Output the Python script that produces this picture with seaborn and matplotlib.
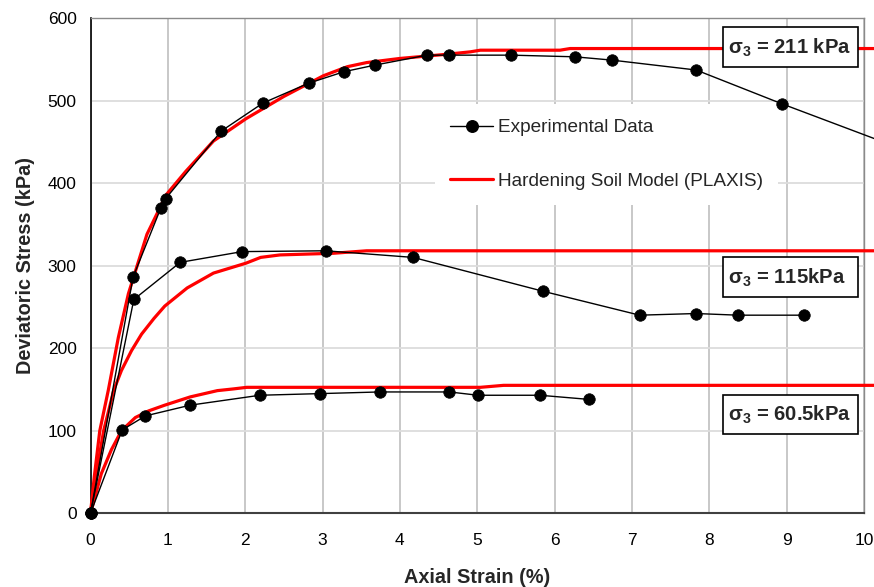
import numpy as np
import pandas as pd
import matplotlib
matplotlib.use("Agg")
import matplotlib.pyplot as plt
from matplotlib.lines import Line2D
from matplotlib.patches import Rectangle
import seaborn as sns

# triaxial tests - experimental points (axial strain %, deviatoric stress kPa)
exp_211_strain = [0, 0.55, 0.91, 0.97, 1.69, 2.23, 2.82, 3.28, 3.68, 4.35, 4.63, 5.44, 6.26, 6.74, 7.83, 8.94, 10.5]
exp_211_stress = [0, 286, 370, 381, 463, 497, 521, 535, 543, 555, 555, 555, 553, 549, 537, 496, 441]

exp_115_strain = [0, 0.56, 1.16, 1.96, 3.04, 4.17, 5.85, 7.10, 7.83, 8.37, 9.22]
exp_115_stress = [0, 259, 304, 317, 318, 310, 269, 240, 242, 240, 240]

exp_60_strain = [0, 0.41, 0.71, 1.29, 2.19, 2.97, 3.74, 4.64, 5.01, 5.81, 6.44]
exp_60_stress = [0, 101, 118, 131, 143, 145, 147, 147, 143, 143, 138]

# Hardening Soil model (PLAXIS)
hs_211_strain = [0, 0.05, 0.12, 0.23, 0.36, 0.49, 0.62, 0.73, 0.98, 1.23, 1.59, 2.01, 2.5,
                 3.01, 3.32, 3.57, 4.0, 4.6, 4.91, 5.04, 6.07, 6.2, 10.5]
hs_211_stress = [0, 45, 100, 149, 213, 266, 305, 338, 386, 414, 451, 478, 505,
                 530, 541, 546, 551, 556, 559, 561, 561, 563, 563]

hs_115_strain = [0, 0.07, 0.17, 0.30, 0.40, 0.53, 0.66, 0.82, 0.96, 1.25, 1.59, 2.01,
                 2.2, 2.45, 3.14, 3.57, 10.5]
hs_115_stress = [0, 45, 100, 149, 173, 197, 217, 236, 251, 273, 291, 303,
                 310, 313, 315, 318, 318]

hs_60_strain = [0, 0.14, 0.27, 0.40, 0.58, 0.75, 0.96, 1.29, 1.64, 1.85, 2.02, 5.04, 5.34, 10.5]
hs_60_stress = [0, 48, 77, 100, 116, 124, 131, 141, 148.6, 150.7, 152.6, 152.6, 155, 155]

box_labels = [r"σ$_\mathbf{3}$ = 211 kPa", r"σ$_\mathbf{3}$ = 115kPa", r"σ$_\mathbf{3}$ = 60.5kPa"]
box_bottoms = [540.5, 261.8, 95.5]

ROUGE = "#FF0000"

sns.set_style("white")
plt.rcParams["font.family"] = ["Liberation Sans", "DejaVu Sans"]
plt.rcParams["mathtext.fontset"] = "custom"
plt.rcParams["mathtext.rm"] = "Liberation Sans"
plt.rcParams["mathtext.bf"] = "Liberation Sans:bold"

fig = plt.figure(figsize=(8.74, 5.87), dpi=100)
ax = fig.add_axes([90.5 / 874, 1 - 513.3 / 587, 773.5 / 874, 495.3 / 587])

# modele HS en rouge, dessous
for sx, sy in [(hs_211_strain, hs_211_stress), (hs_115_strain, hs_115_stress), (hs_60_strain, hs_60_stress)]:
    d = pd.DataFrame({"strain": sx, "stress": sy})
    sns.lineplot(data=d, x="strain", y="stress", sort=False, estimator=None,
                 color=ROUGE, linewidth=2.3, ax=ax, clip_on=False, zorder=3)

# donnees experimentales
for sx, sy in [(exp_211_strain, exp_211_stress), (exp_115_strain, exp_115_stress), (exp_60_strain, exp_60_stress)]:
    d = pd.DataFrame({"strain": sx, "stress": sy})
    sns.lineplot(data=d, x="strain", y="stress", sort=False, estimator=None,
                 color="black", linewidth=1.0, marker="o", markersize=8.3,
                 markeredgecolor="black", markeredgewidth=0.5,
                 ax=ax, clip_on=False, zorder=4)

ax.set_xlim(0, 10)
ax.set_ylim(0, 600)
ax.set_xticks(range(0, 11))
ax.set_yticks(range(0, 601, 100))

ax.grid(axis="x", color="#c4c4c4", linewidth=1.3, zorder=0)
ax.grid(axis="y", color="#dcdcdc", linewidth=1.3, zorder=0)
ax.set_axisbelow(True)

for side in ["top", "right"]:
    ax.spines[side].set_color("#8a8a8a")
    ax.spines[side].set_linewidth(1.0)
ax.spines["left"].set_color("black")
ax.spines["left"].set_linewidth(1.2)
ax.spines["bottom"].set_color("#404040")
ax.spines["bottom"].set_linewidth(1.5)

ax.tick_params(axis="both", direction="out", length=5, width=1, colors="#222222",
               labelsize=12.5, labelcolor="black")
ax.tick_params(axis="x", pad=9)
ax.tick_params(axis="y", pad=5)

ax.set_xlabel("Axial Strain (%)", fontsize=14.3, fontweight="bold", labelpad=14.5)
ax.set_ylabel("Deviatoric Stress (kPa)", fontsize=14.3, fontweight="bold", labelpad=9)

# boites sigma_3
for lab, yb in zip(box_labels, box_bottoms):
    ax.add_patch(Rectangle((8.173, yb), 1.745, 48.3, facecolor="white", edgecolor="black",
                           linewidth=1.2, zorder=6, clip_on=False))
    ax.text(8.245, yb + 23.5, lab, fontsize=14.6, fontweight="bold", ha="left", va="center",
            zorder=7)

handles = [
    Line2D([], [], color="black", linewidth=1.0, marker="o", markersize=8.3),
    Line2D([], [], color=ROUGE, linewidth=2.3),
]
leg = ax.legend(handles, ["Experimental Data", "Hardening Soil Model (PLAXIS)"],
                loc="upper left", bbox_to_anchor=(0.4454, 0.827), borderaxespad=0,
                fontsize=13.7, frameon=True, facecolor="white", edgecolor="none",
                framealpha=1, fancybox=False, borderpad=0.8, labelspacing=1.9,
                handlelength=2.25, handletextpad=0.25)
leg.set_zorder(3.5)

fig.savefig("out.png", dpi=100)
